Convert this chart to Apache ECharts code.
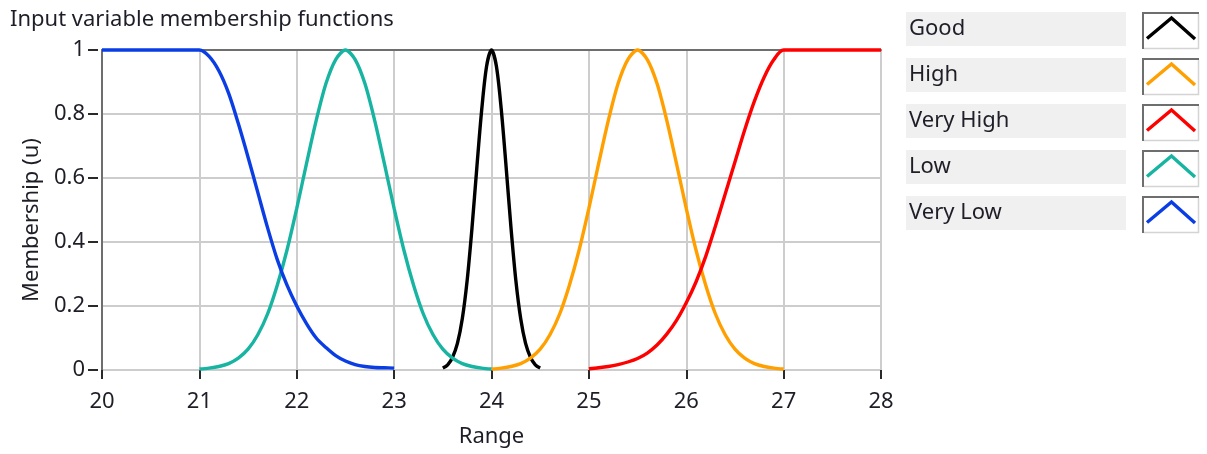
<!DOCTYPE html>
<html>
<head>
<meta charset="utf-8">
<script src="https://cdn.jsdelivr.net/npm/echarts@6/dist/echarts.min.js"></script>
<style>
  html, body { margin: 0; padding: 0; background: #ffffff; }
  #chart { width: 1207px; height: 454px; }
</style>
</head>
<body>
<div id="chart"></div>
<script>
// ---- membership function samples (x = range, u = membership) ----
const goodX = [23.5, 23.55, 23.6, 23.65, 23.7, 23.75, 23.8, 23.85, 23.9, 23.95, 24,
               24.05, 24.1, 24.15, 24.2, 24.25, 24.3, 24.35, 24.4, 24.45, 24.5];
const goodU = [0.006, 0.016, 0.04, 0.083, 0.16, 0.28, 0.445, 0.635, 0.815, 0.95, 1,
               0.95, 0.815, 0.635, 0.445, 0.28, 0.16, 0.083, 0.04, 0.016, 0.006];

const highX = [24, 24.1, 24.2, 24.3, 24.4, 24.5, 24.6, 24.7, 24.8, 24.9, 25,
               25.1, 25.2, 25.3, 25.4, 25.5, 25.6, 25.7, 25.8, 25.9, 26,
               26.1, 26.2, 26.3, 26.4, 26.5, 26.6, 26.7, 26.8, 26.9, 27];
const highU = [0.003, 0.006, 0.011, 0.02, 0.037, 0.065, 0.11, 0.175, 0.265, 0.375, 0.505,
               0.645, 0.78, 0.895, 0.97, 1, 0.97, 0.895, 0.78, 0.645, 0.505,
               0.375, 0.265, 0.175, 0.11, 0.065, 0.037, 0.02, 0.011, 0.006, 0.003];

const veryHighX = [25, 25.1, 25.2, 25.3, 25.4, 25.5, 25.6, 25.7, 25.8, 25.9, 26,
                   26.1, 26.2, 26.3, 26.4, 26.5, 26.6, 26.7, 26.8, 26.9, 27, 28];
const veryHighU = [0.004, 0.007, 0.011, 0.017, 0.025, 0.036, 0.053, 0.078, 0.112, 0.155, 0.21,
                   0.275, 0.355, 0.45, 0.55, 0.65, 0.75, 0.84, 0.915, 0.97, 1, 1];

const lowX = [21, 21.1, 21.2, 21.3, 21.4, 21.5, 21.6, 21.7, 21.8, 21.9, 22,
              22.1, 22.2, 22.3, 22.4, 22.5, 22.6, 22.7, 22.8, 22.9, 23,
              23.1, 23.2, 23.3, 23.4, 23.5, 23.6, 23.7, 23.8, 23.9, 24];
const lowU = [0.003, 0.006, 0.011, 0.02, 0.037, 0.065, 0.11, 0.175, 0.265, 0.375, 0.505,
              0.645, 0.78, 0.895, 0.97, 1, 0.97, 0.895, 0.78, 0.645, 0.505,
              0.375, 0.265, 0.175, 0.11, 0.065, 0.037, 0.02, 0.011, 0.006, 0.003];

const veryLowX = [20, 21, 21.1, 21.2, 21.3, 21.4, 21.5, 21.6, 21.7, 21.8, 21.9, 22,
                  22.1, 22.2, 22.3, 22.4, 22.5, 22.6, 22.7, 22.8, 22.9, 23];
const veryLowU = [1, 1, 0.98, 0.935, 0.865, 0.77, 0.665, 0.555, 0.445, 0.345, 0.265, 0.2,
                  0.145, 0.1, 0.07, 0.045, 0.028, 0.017, 0.011, 0.008, 0.007, 0.006];

const seriesNames = ['Good', 'High', 'Very High', 'Low', 'Very Low'];
const seriesX = [goodX, highX, veryHighX, lowX, veryLowX];
const seriesU = [goodU, highU, veryHighU, lowU, veryLowU];

// axis ranges
const xRange = [20, 28];
const xStep = 1;
const yRange = [0, 1];
const yStep = 0.2;

// ---- styling ----
const lineColors = ['#000000', '#ffa000', '#ff0000', '#17b4a2', '#0a3ee4'];
const FONT = '"Segoe UI", "Noto Sans", sans-serif';
const FS = 22;
const TEXT = '#1e1e28';
const GRID_LINE = '#cdcdcd';
const FRAME_DARK = '#6e6e6e';

const chart = echarts.init(document.getElementById('chart'), null, { renderer: 'canvas' });

const series = seriesNames.map((name, i) => ({
  name,
  type: 'line',
  xAxisIndex: 0,
  yAxisIndex: 0,
  data: seriesX[i].map((x, k) => [x, seriesU[i][k]]),
  showSymbol: false,
  smooth: 0.3,
  clip: false,
  lineStyle: { color: lineColors[i], width: 3.4 },
  itemStyle: { color: lineColors[i] },
  z: 3 + i
}));

// legend panel: label plate + framed line swatch per plot
const legendGraphics = [];
seriesNames.forEach((name, i) => {
  const top = 12 + 46 * i;
  legendGraphics.push({
    type: 'rect', left: 906, top: top, z: 10,
    shape: { width: 220, height: 34 },
    style: { fill: '#f0f0f0' }
  });
  legendGraphics.push({
    type: 'text', z: 11,
    x: 909, y: top + 17,
    style: { text: name, font: FS + 'px ' + FONT, fill: TEXT, verticalAlign: 'middle', align: 'left' }
  });
  const bx = 1142, by = top, bw = 57, bh = 37;
  legendGraphics.push({
    type: 'rect', z: 10,
    shape: { x: bx, y: by, width: bw, height: bh },
    style: { fill: '#ffffff' }
  });
  legendGraphics.push({
    type: 'polyline', z: 11,
    shape: { points: [[bx + 1, by + bh], [bx + 1, by + 1], [bx + bw, by + 1]] },
    style: { stroke: FRAME_DARK, lineWidth: 2, fill: null }
  });
  legendGraphics.push({
    type: 'polyline', z: 11,
    shape: { points: [[bx + 2, by + bh - 0.5], [bx + bw - 0.5, by + bh - 0.5], [bx + bw - 0.5, by + 2]] },
    style: { stroke: '#d4d4d4', lineWidth: 1.5, fill: null }
  });
  legendGraphics.push({
    type: 'polyline', z: 12,
    shape: { points: [[bx + 5, by + 26.5], [bx + 29.5, by + 6], [bx + 53, by + 27]] },
    style: { stroke: lineColors[i], lineWidth: 3.4, fill: null, lineJoin: 'miter' }
  });
});

const option = {
  backgroundColor: '#ffffff',
  animation: false,
  title: {
    text: 'Input variable membership functions',
    left: 5, top: 4,
    textStyle: { fontFamily: FONT, fontSize: FS, fontWeight: 'normal', color: TEXT }
  },
  grid: { left: 102, right: 326, top: 50, bottom: 84, containLabel: false },
  xAxis: [
    {
      type: 'value', position: 'bottom', offset: 4,
      min: xRange[0], max: xRange[1], interval: xStep,
      name: 'Range', nameLocation: 'middle', nameGap: 52,
      nameTextStyle: { fontFamily: FONT, fontSize: FS, color: TEXT },
      axisLine: { show: false },
      axisTick: { show: true, length: 9, lineStyle: { color: '#2a2a2a', width: 2 } },
      axisLabel: { margin: 17, fontFamily: FONT, fontSize: FS, color: TEXT },
      splitLine: { show: true, lineStyle: { color: GRID_LINE, width: 2 } }
    },
    {
      type: 'value', position: 'top',
      min: xRange[0], max: xRange[1], interval: xStep,
      axisLine: { show: true, onZero: false, lineStyle: { color: FRAME_DARK, width: 2 } },
      axisTick: { show: false }, axisLabel: { show: false }, splitLine: { show: false }
    }
  ],
  yAxis: [
    {
      type: 'value', position: 'left',
      min: yRange[0], max: yRange[1], interval: yStep,
      axisLine: { show: true, onZero: false, lineStyle: { color: FRAME_DARK, width: 2 } },
      axisTick: { show: false }, axisLabel: { show: false },
      splitLine: { show: true, lineStyle: { color: GRID_LINE, width: 2 } }
    },
    {
      type: 'value', position: 'left', offset: 4,
      min: yRange[0], max: yRange[1], interval: yStep,
      name: 'Membership (u)', nameLocation: 'middle', nameGap: 54, nameRotate: 90,
      nameTextStyle: { fontFamily: FONT, fontSize: FS, color: TEXT, padding: [0, 20, 0, 0] },
      axisLine: { show: false },
      axisTick: { show: true, length: 10, lineStyle: { color: '#2a2a2a', width: 2 } },
      axisLabel: { margin: 13, fontFamily: FONT, fontSize: FS, color: TEXT },
      splitLine: { show: false }
    }
  ],
  graphic: legendGraphics,
  series
};

chart.setOption(option);
</script>
</body>
</html>
